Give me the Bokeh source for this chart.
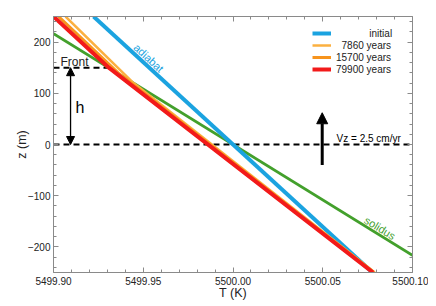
import math
from bokeh.plotting import figure
from bokeh.models import (Range1d, LinearAxis, SingleIntervalTicker, PrintfTickFormatter,
                          CustomJSTickFormatter, Arrow, NormalHead, Legend, LegendItem, Label)
from bokeh.embed import file_html
from bokeh.resources import INLINE

# ---------------- data ----------------
T_range = [5499.90, 5500.10]
z_range = [-250, 250]

initial_T = [5499.9223, 5500.0777]
initial_z = [250, -250]
t7860_T = [5499.9067, 5499.9446, 5500.0790]
t7860_z = [250, 120, -250]
t15700_T = [5499.9028, 5499.9360, 5500.0785]
t15700_z = [250, 140, -250]
t79900_T = [5499.9000, 5499.9308, 5500.0780]
t79900_z = [250, 150, -250]
solidus_T = [5499.90, 5500.10]
solidus_z = [216.5, -216.5]

front_z = [150, 150]
front_T = [5499.90, 5499.9308]
base_z = [0, 0]
base_T = [5499.90, 5500.10]

legend_labels = ["initial", "7860 years", "15700 years", "79900 years"]

FONT = "Liberation Sans"
AX = "#8a8a8a"
TXT = "#222222"

p = figure(frame_width=359, frame_height=256, output_backend="svg", toolbar_location=None,
           x_range=Range1d(*T_range), y_range=Range1d(*z_range),
           min_border_left=53, min_border_right=16, min_border_top=16, min_border_bottom=10)
p.grid.visible = False
p.outline_line_color = None
p.background_fill_color = "white"
p.border_fill_color = "white"

def style_axis(ax, labels=True):
    ax.axis_line_color = AX
    ax.major_tick_line_color = AX
    ax.minor_tick_line_color = AX
    ax.major_tick_in = 5
    ax.major_tick_out = 0
    ax.minor_tick_in = 3
    ax.minor_tick_out = 0
    ax.major_label_text_font = FONT
    ax.major_label_text_color = TXT
    ax.axis_label_text_font = FONT
    ax.axis_label_text_font_style = "normal"
    ax.axis_label_text_color = TXT
    ax.major_label_text_font_size = "10px"
    if not labels:
        ax.formatter = CustomJSTickFormatter(code="return ''")
        ax.major_label_standoff = 0

p.xaxis.ticker = SingleIntervalTicker(interval=0.05, num_minor_ticks=5)
p.xaxis.formatter = PrintfTickFormatter(format="%.2f")
p.xaxis.axis_label = "T (K)"
p.yaxis.ticker = SingleIntervalTicker(interval=100, num_minor_ticks=5)
p.yaxis.axis_label = "z (m)"
for ax in p.xaxis + p.yaxis:
    style_axis(ax)
p.xaxis.major_label_standoff = 4
p.xaxis.axis_label_standoff = -2
p.xaxis.axis_label_text_font_size = "12.5px"
p.yaxis.major_label_standoff = 3
p.yaxis.axis_label_standoff = -4
p.yaxis.axis_label_text_font_size = "12.5px"

top = LinearAxis(ticker=SingleIntervalTicker(interval=0.05, num_minor_ticks=5))
right = LinearAxis(ticker=SingleIntervalTicker(interval=100, num_minor_ticks=5))
style_axis(top, labels=False)
style_axis(right, labels=False)
p.add_layout(top, "above")
p.add_layout(right, "right")

# ---------------- lines ----------------
p.line(front_T, front_z, line_color="black", line_width=2, line_dash="6 4")
p.line(base_T, base_z, line_color="black", line_width=2, line_dash="6 4")

r_sol = p.line(solidus_T, solidus_z, line_color="#43A02C", line_width=3)
r_ini = p.line(initial_T, initial_z, line_color="#1BA3E0", line_width=4)
r_a = p.line(t7860_T, t7860_z, line_color="#FBB040", line_width=2.5)
r_b = p.line(t15700_T, t15700_z, line_color="#F7941D", line_width=3)
r_c = p.line(t79900_T, t79900_z, line_color="#F21A1A", line_width=4)

# ---------------- annotations ----------------
p.add_layout(Arrow(x_start=5499.9095, y_start=front_z[0], x_end=5499.9095, y_end=base_z[0],
                   line_color="black", line_width=1.3,
                   start=NormalHead(size=8, fill_color="black", line_color="black"),
                   end=NormalHead(size=8, fill_color="black", line_color="black")))
p.add_layout(Arrow(x_start=5500.0497, y_start=-40, x_end=5500.0497, y_end=62,
                   line_color="black", line_width=3,
                   end=NormalHead(size=11, fill_color="black", line_color="black")))

p.add_layout(Label(x=5499.9147, y=73, text="h", text_font=FONT, text_font_size="16px",
                   text_align="center", text_baseline="middle", text_color="black"))
p.add_layout(Label(x=5499.9117, y=162, text="Front", text_font=FONT, text_font_size="12px",
                   text_align="center", text_baseline="middle", text_color=TXT))
p.add_layout(Label(x=5500.0577, y=12, text="Vz = 2.5 cm/yr", text_font=FONT,
                   text_font_size="10px", text_align="left", text_baseline="middle",
                   text_color="black"))
p.add_layout(Label(x=5499.9530, y=169, text="adiabat", text_font=FONT, text_font_size="11px",
                   text_align="center", text_baseline="middle", text_color="#1BA3E0",
                   angle=-math.radians(42.5)))
p.add_layout(Label(x=5500.0819, y=-163, text="solidus", text_font=FONT, text_font_size="11px",
                   text_align="center", text_baseline="middle", text_color="#43A02C",
                   angle=-math.radians(31.6)))

# right-align legend labels by padding with no-break spaces
NB = "\u00a0"
pads = [12, 2, 0, 0]
shown = [NB * n + lab for n, lab in zip(pads, legend_labels)]

legend = Legend(items=[LegendItem(label=shown[0], renderers=[r_ini]),
                       LegendItem(label=shown[1], renderers=[r_a]),
                       LegendItem(label=shown[2], renderers=[r_b]),
                       LegendItem(label=shown[3], renderers=[r_c])],
                location=(254, 192), border_line_alpha=0, background_fill_alpha=0,
                label_text_font=FONT, label_text_font_size="10px", label_text_color=TXT,
                glyph_width=19, glyph_height=12, label_height=12, spacing=0,
                padding=5, label_standoff=5, margin=0)
p.add_layout(legend)

open("out.html", "w").write(file_html(p, INLINE))
